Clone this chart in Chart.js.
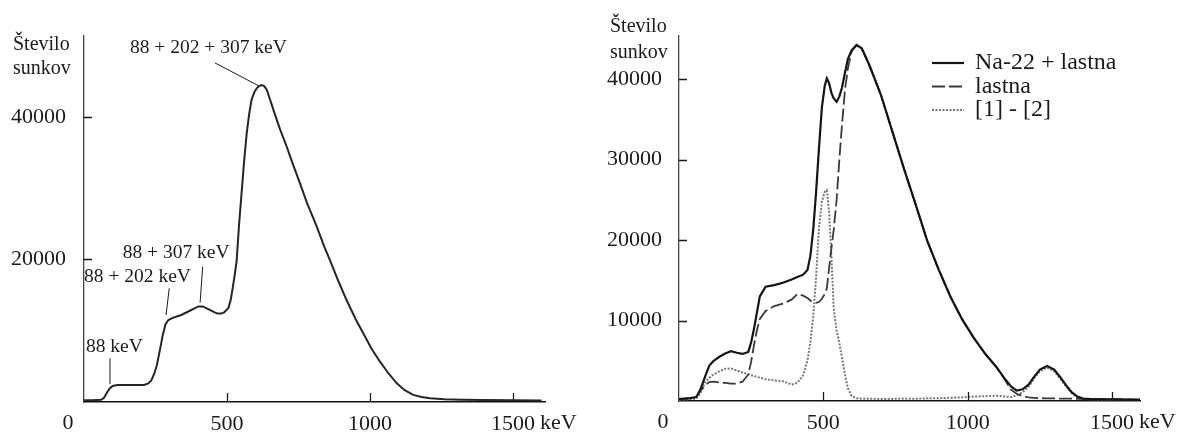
<!DOCTYPE html>
<html lang="sl">
<head>
<meta charset="utf-8">
<title>Spekter Na-22</title>
<script src="https://cdn.jsdelivr.net/npm/chart.js@4.4.1/dist/chart.umd.min.js"></script>
<style>
  html, body { margin: 0; padding: 0; background: #fff; }
  #wrap { position: relative; width: 1184px; height: 436px; }
  canvas { position: absolute; top: 0; }
  #leftSpectrum { left: 0; }
  #rightSpectrum { left: 592px; }
</style>
</head>
<body>
<div id="wrap">
  <canvas id="leftSpectrum" width="592" height="436"></canvas>
  <canvas id="rightSpectrum" width="592" height="436"></canvas>
</div>
<script>
// levi spekter: energija (keV) in število sunkov
const leftEnergy = [0, 30, 60, 70, 80, 90, 100, 117, 150, 180, 210, 225, 235, 245, 255,
    265, 275, 285, 295, 310, 340, 370, 400, 415, 431, 450, 466, 480, 490, 505,
    513, 520, 527, 534, 542, 551, 560, 569, 578, 586, 595, 604, 612, 621, 630,
    639, 650, 662, 685, 709, 730, 755, 780, 814, 840, 860, 890, 918, 950, 977,
    1005, 1035, 1065, 1093, 1120, 1151, 1180, 1210, 1260, 1320, 1400, 1500, 1600];
const leftCounts = [250, 250, 300, 600, 1300, 1900, 2250, 2380, 2380, 2380, 2400, 2600, 3000, 3900, 5200,
    7200, 9300, 10900, 11500, 11800, 12200, 12800, 13400, 13400, 13100, 12700, 12400, 12400, 12550, 13200,
    14300, 16000, 17800, 19900, 24800, 29300, 33800, 37700, 40500, 42400, 43400, 44000, 44300, 44460, 44300,
    43800, 42500, 41000, 38300, 35800, 33400, 30700, 27900, 24600, 21800, 19900, 16900, 14300, 11600, 9600,
    7500, 5650, 4000, 2650, 1700, 1000, 700, 520, 380, 320, 280, 250, 220];

// desni spekter: vir + lastna, samo lastna, razlika
const rightEnergy = [0, 20, 40, 60, 75, 90, 105, 120, 140, 160, 180, 200, 220, 240, 250,
    260, 270, 280, 300, 330, 360, 390, 410, 430, 445, 455, 465, 475, 485, 495,
    505, 512, 520, 528, 536, 546, 555, 565, 575, 585, 598, 615, 633, 660, 700,
    740, 780, 820, 860, 900, 940, 980, 1020, 1060, 1100, 1130, 1150, 1170, 1190, 1210,
    1230, 1250, 1275, 1300, 1320, 1340, 1360, 1380, 1400, 1440, 1500, 1550, 1600];
const sourceAndBackground = [250, 300, 350, 500, 1500, 3000, 4400, 5000, 5500, 5900, 6200, 6000, 5850, 6100, 7300,
    9000, 11000, 13000, 14200, 14400, 14700, 15100, 15400, 15700, 16300, 18000, 21300, 26000, 31500, 36500,
    39200, 40100, 39500, 38300, 37600, 37200, 37800, 39000, 40800, 42500, 43600, 44250, 43850, 41700, 38000,
    33400, 28800, 24400, 19900, 16300, 13000, 10200, 7900, 5900, 4200, 2700, 1800, 1300, 1450, 2000,
    3000, 3900, 4350, 3900, 3000, 2000, 1100, 550, 300, 220, 200, 180, 150];
const backgroundOnly = [250, 300, 350, 500, 1300, 1950, 2350, 2400, 2300, 2250, 2150, 2150, 2400, 3300, 4900,
    7000, 8800, 10200, 11200, 11800, 12100, 12600, 13300, 13100, 12800, 12500, 12300, 12200, 12300, 12700,
    13300, 14000, 16500, 19000, 21300, 25000, 29800, 34500, 38700, 41300, 43500, 44200, 43850, 41700, 38000,
    33400, 28800, 24400, 19900, 16300, 13000, 10200, 7900, 5900, 4200, 2600, 1400, 900, 600, 450,
    400, 350, 330, 320, 300, 300, 290, 280, 270, 250, 230, 200, 180];
const difference = [200, 200, 250, 300, 1000, 2300, 2900, 3300, 3700, 4000, 4050, 3800, 3550, 3350, 3200,
    3100, 3000, 2900, 2700, 2550, 2450, 2050, 2250, 3200, 5000, 7300, 10500, 15500, 21500, 24800,
    26000, 26200, 23500, 18000, 11500, 8800, 7300, 5300, 3300, 1600, 600, 350, 300, 280, 250,
    260, 300, 280, 330, 350, 400, 450, 550, 600, 650, 550, 500, 700, 1100, 1700,
    2800, 3700, 4150, 3700, 2800, 1850, 1000, 450, 250, 200, 200, 180, 150];

const seriesLabels = ['Na-22 + lastna', 'lastna', '[1] - [2]'];
const energyTicks = [500, 1000, 1500];
const leftCountTicks = [20000, 40000];
const rightCountTicks = [10000, 20000, 30000, 40000];
const axisTitle = ['Število', 'sunkov'];

const serif = '"Liberation Serif", "Times New Roman", serif';
const ink = '#1b1b1b';

Chart.defaults.font.family = serif;
Chart.defaults.color = ink;

function points(xs, ys) {
    return xs.map((x, i) => ({ x: x, y: ys[i] }));
}

// inner ticks, "0" / "keV" labels, axis title, notes and legend
const spectrumDecor = {
    id: 'spectrumDecor',
    afterDraw(chart, args, o) {
        const ctx = chart.ctx;
        const area = chart.chartArea;
        const xs = chart.scales.x;
        const ys = chart.scales.y;
        ctx.save();

        ctx.strokeStyle = ink;
        ctx.lineWidth = 1.3;
        ctx.beginPath();
        ys.ticks.forEach(t => {
            const py = Math.round(ys.getPixelForValue(t.value)) + 0.5;
            ctx.moveTo(area.left, py);
            ctx.lineTo(area.left + 8, py);
        });
        xs.ticks.forEach(t => {
            const px = Math.round(xs.getPixelForValue(t.value)) + 0.5;
            ctx.moveTo(px, area.bottom);
            ctx.lineTo(px, area.bottom - 9);
        });
        ctx.stroke();

        ctx.fillStyle = ink;
        ctx.font = '22px ' + serif;
        ctx.textBaseline = 'middle';
        const labelY = area.bottom + 21;
        ctx.textAlign = 'center';
        ctx.fillText('0', xs.getPixelForValue(0) - 16, labelY);
        const last = xs.ticks[xs.ticks.length - 1].value;
        const half = ctx.measureText(String(last)).width / 2;
        ctx.textAlign = 'left';
        ctx.fillText('keV', xs.getPixelForValue(last) + half + 5, labelY);

        ctx.font = '20px ' + serif;
        ctx.textBaseline = 'alphabetic';
        axisTitle.forEach((line, i) => ctx.fillText(line, o.titleX, o.titleY + i * o.titleGap));

        // peak notes with leader lines, anchored in keV / counts
        if (o.notes) {
            ctx.font = '19.5px ' + serif;
            ctx.textAlign = 'center';
            ctx.textBaseline = 'middle';
            ctx.lineWidth = 1;
            o.notes.forEach(n => {
                ctx.fillText(n.text, xs.getPixelForValue(n.at[0]), ys.getPixelForValue(n.at[1]));
                ctx.beginPath();
                ctx.moveTo(xs.getPixelForValue(n.from[0]), ys.getPixelForValue(n.from[1]));
                ctx.lineTo(xs.getPixelForValue(n.to[0]), ys.getPixelForValue(n.to[1]));
                ctx.stroke();
            });
        }

        if (o.legend) {
            ctx.font = '24px ' + serif;
            ctx.textAlign = 'left';
            ctx.textBaseline = 'middle';
            chart.data.datasets.forEach((ds, i) => {
                const yy = o.legend.y + i * o.legend.gap;
                ctx.strokeStyle = ds.borderColor;
                ctx.lineWidth = ds.borderWidth;
                ctx.setLineDash(ds.borderDash || []);
                ctx.beginPath();
                ctx.moveTo(o.legend.x, yy);
                ctx.lineTo(o.legend.x + 32, yy);
                ctx.stroke();
                ctx.setLineDash([]);
                ctx.fillStyle = ink;
                ctx.fillText(ds.label, o.legend.x + 43, yy);
            });
        }
        ctx.restore();
    }
};

function spectrumChart(id, datasets, opt) {
    return new Chart(document.getElementById(id), {
        type: 'line',
        data: { datasets: datasets },
        plugins: [spectrumDecor],
        options: {
            responsive: false,
            animation: false,
            layout: { padding: { top: 36, right: opt.padRight, left: 0, bottom: 0 } },
            elements: { point: { radius: 0 }, line: { tension: 0 } },
            plugins: {
                legend: { display: false },
                tooltip: { enabled: false },
                spectrumDecor: opt.decor
            },
            scales: {
                x: {
                    type: 'linear',
                    min: 0,
                    max: opt.xMax,
                    afterBuildTicks: s => { s.ticks = energyTicks.map(v => ({ value: v })); },
                    afterFit: s => { s.height = opt.xHeight; },
                    grid: { display: false },
                    border: { display: true, color: '#111', width: 1.4 },
                    ticks: { font: { size: 22 }, padding: 1, maxRotation: 0, callback: v => String(v) }
                },
                y: {
                    min: 0,
                    max: opt.yMax,
                    afterBuildTicks: s => { s.ticks = opt.yTicks.map(v => ({ value: v })); },
                    afterFit: s => { s.width = opt.yWidth; },
                    grid: { display: false },
                    border: { display: true, color: '#444', width: 1.3 },
                    ticks: { font: { size: 22 }, padding: opt.yPad, callback: v => String(v) }
                }
            }
        }
    });
}

spectrumChart('leftSpectrum', [{
    label: 'spekter',
    data: points(leftEnergy, leftCounts),
    borderColor: '#262626',
    borderWidth: 2
}], {
    xMax: 1612, yMax: 51330, yTicks: leftCountTicks,
    yWidth: 84, xHeight: 34, padRight: 47, yPad: 10,
    decor: {
        titleX: 13, titleY: 50, titleGap: 24,
        notes: [
            { text: '88 + 202 + 307 keV', at: [435, 49650], from: [458, 47550], to: [612, 44320] },
            { text: '88 + 307 keV', at: [322, 20900], from: [415, 18980], to: [406, 13930] },
            { text: '88 + 202 keV', at: [187, 17570], from: [298, 15950], to: [287, 12200] },
            { text: '88 keV', at: [106, 7760], from: [91, 6130], to: [91, 2520] }
        ]
    }
});

spectrumChart('rightSpectrum', [{
    label: seriesLabels[0],
    data: points(rightEnergy, sourceAndBackground),
    borderColor: '#151515',
    borderWidth: 2.2
}, {
    label: seriesLabels[1],
    data: points(rightEnergy, backgroundOnly),
    borderColor: '#3a3a3a',
    borderWidth: 1.8,
    borderDash: [13, 4]
}, {
    label: seriesLabels[2],
    data: points(rightEnergy, difference),
    borderColor: '#777777',
    borderWidth: 2,
    borderDash: [2, 1.5]
}], {
    xMax: 1597, yMax: 45370, yTicks: rightCountTicks,
    yWidth: 87, xHeight: 35, padRight: 44, yPad: 9,
    decor: {
        titleX: 18, titleY: 32, titleGap: 26,
        legend: { x: 340, y: 63, gap: 23.5 }
    }
});
</script>
</body>
</html>
